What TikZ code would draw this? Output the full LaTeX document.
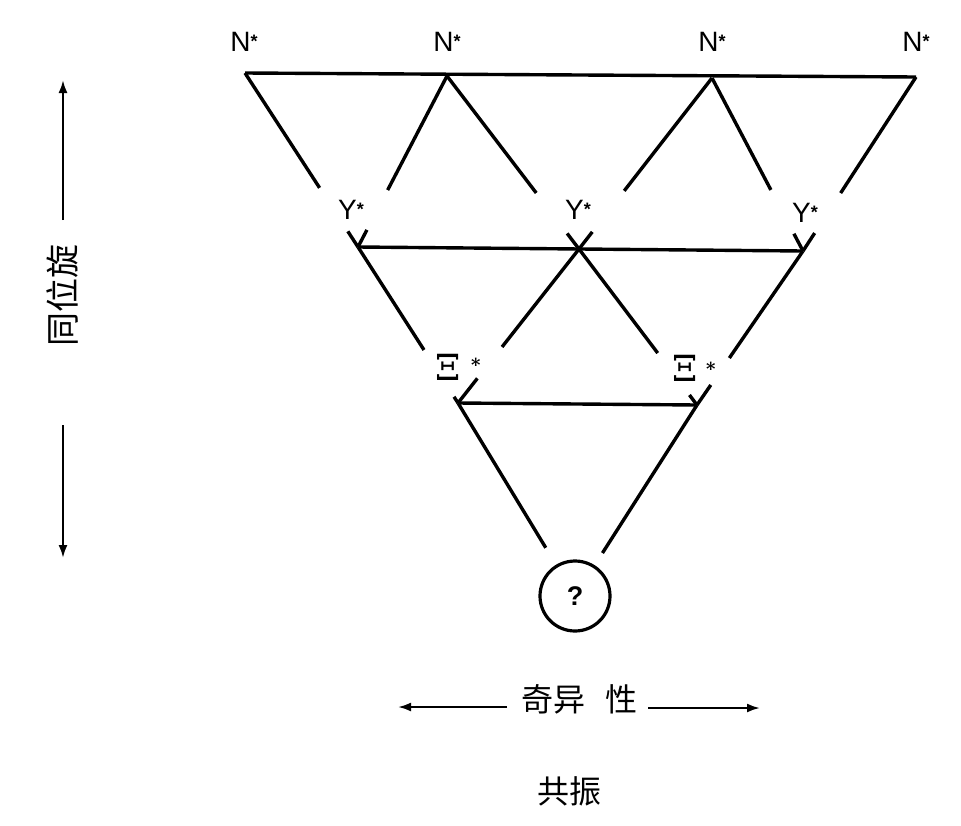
\documentclass[tikz,border=0pt]{standalone}
\usepackage{fontspec}
\setmainfont{Liberation Sans}
\newfontfamily\cjk{Noto Sans CJK SC}
\newfontfamily\grk{DejaVu Serif}
\usetikzlibrary{calc,arrows.meta}
\newcommand\gapseg[4]{\draw (#1) -- ($(#1)!#3!(#2)$); \draw ($(#1)!#4!(#2)$) -- (#2);}
\begin{document}
\begin{tikzpicture}[x=1pt,y=-1pt,line width=3.4pt,
  lbl/.style={inner sep=0pt,font=\fontsize{28}{28}\selectfont},
  xilbl/.style={inner sep=0pt,anchor=west,font=\grk\fontsize{36}{36}\selectfont},
  cjklbl/.style={inner sep=0pt,font=\cjk\fontsize{32}{32}\selectfont},
  arr/.style={line width=2.2pt,-{Latex[length=13pt,width=9pt]}},
  omega/.style={draw,circle,minimum size=70pt,inner sep=0pt,line width=3.2pt,font=\bfseries\fontsize{27}{27}\selectfont}]
\useasboundingbox (0,0) rectangle (961,825);
% vertices
\coordinate (N1) at (245,73);
\coordinate (N2) at (447,76);
\coordinate (N3) at (712,78);
\coordinate (N4) at (916,77);
\coordinate (Y1) at (358,247);
\coordinate (Y2) at (579,249);
\coordinate (Y3) at (803,251);
\coordinate (X1) at (458,403);
\coordinate (X2) at (697,405);
\coordinate (O) at (575,596);
% horizontal lines
\draw (N1) -- (N4);
\draw (Y1) -- (Y3);
\draw (X1) -- (X2);
% slanted lines with gaps at labels
\gapseg{N1}{Y1}{0.66}{0.91}
\gapseg{N2}{Y1}{0.667}{0.90}
\gapseg{N2}{Y2}{0.676}{0.91}
\gapseg{N3}{Y2}{0.66}{0.90}
\gapseg{N3}{Y3}{0.647}{0.90}
\gapseg{N4}{Y3}{0.667}{0.897}
\gapseg{Y1}{X1}{0.66}{0.96}
\gapseg{Y2}{X1}{0.636}{0.84}
\gapseg{Y2}{X2}{0.667}{0.936}
\gapseg{Y3}{X2}{0.695}{0.87}
\draw (X1) -- ($(X1)!0.75!(O)$);
\draw (X2) -- ($(X2)!0.775!(O)$);
\node[omega] (Om) at (O) {?};
% labels
\newcommand\st{\raisebox{4pt}{\fontsize{18}{18}\bfseries\selectfont *}}
\node[lbl] (nl1) at (244,42) {N\st};
\node[lbl] (nl2) at (447,42) {N\st};
\node[lbl] (nl3) at (712,42) {N\st};
\node[lbl] (nl4) at (916,42) {N\st};
\node[lbl] (yl1) at (351,210) {Y\st};
\node[lbl] (yl2) at (578,210) {Y\st};
\node[lbl] (yl3) at (805,213) {Y\st};
\node[xilbl] (xl1) at (434,367) {Ξ\hspace{10pt}\raisebox{9pt}{\fontsize{18}{18}\bfseries\selectfont *}};
\node[xilbl] (xl2) at (671,368) {Ξ\hspace{8pt}\raisebox{6pt}{\fontsize{18}{18}\bfseries\selectfont *}};
% isospin axis
\coordinate (LU1) at (63,220);
\coordinate (LU2) at (63,80);
\coordinate (LD1) at (63,425);
\coordinate (LD2) at (63,558);
\draw[arr] (LU1) -- (LU2);
\draw[arr] (LD1) -- (LD2);
\node[cjklbl,rotate=90,font=\cjk\fontsize{34}{34}\selectfont] (iso) at (62,295) {同位旋};
% strangeness axis
\node[cjklbl] (str) at (579,699) {奇异\hspace{20pt}性};
\coordinate (SL) at (507,707);
\coordinate (SLt) at (398,707);
\coordinate (SR) at (648,708);
\coordinate (SRt) at (760,708);
\draw[arr] (SL) -- (SLt);
\draw[arr] (SR) -- (SRt);
\node[cjklbl] (res) at (569,791) {共振};
\end{tikzpicture}
\end{document}
